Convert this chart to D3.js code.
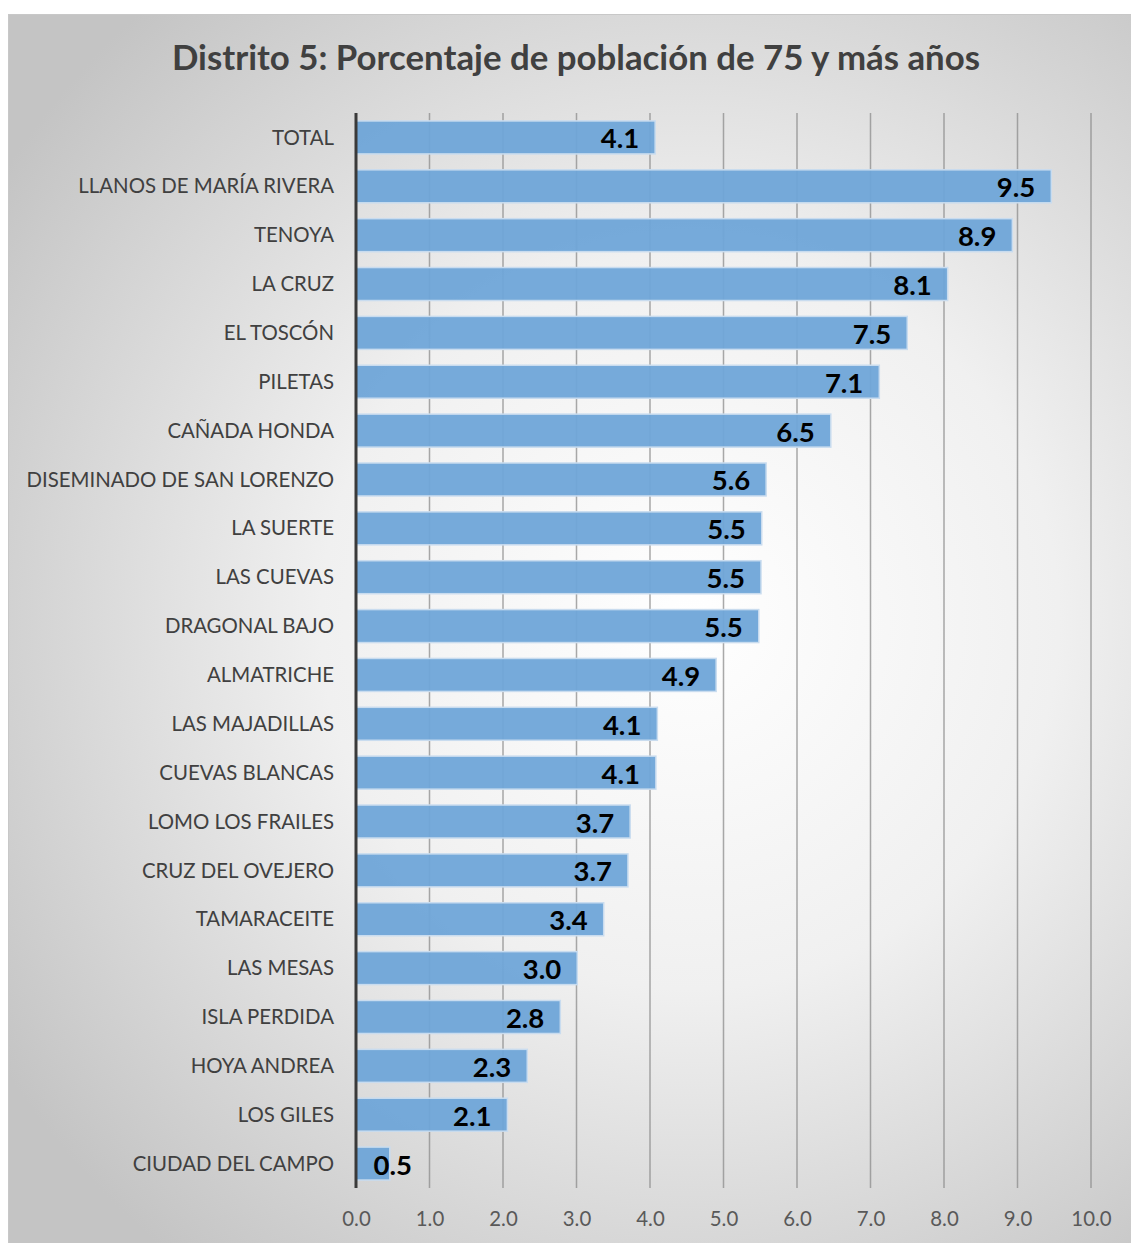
<!DOCTYPE html>
<html>
<head>
<meta charset="utf-8">
<script src="https://cdn.jsdelivr.net/npm/d3@7"></script>
<style>
  html, body { margin: 0; padding: 0; background: #ffffff; }
  svg { display: block; }
</style>
</head>
<body>
<svg id="chart" width="1131" height="1243"></svg>
<script>
const categories = [
  "TOTAL", "LLANOS DE MARÍA RIVERA", "TENOYA", "LA CRUZ", "EL TOSCÓN", "PILETAS",
  "CAÑADA HONDA", "DISEMINADO DE SAN LORENZO", "LA SUERTE", "LAS CUEVAS",
  "DRAGONAL BAJO", "ALMATRICHE", "LAS MAJADILLAS", "CUEVAS BLANCAS",
  "LOMO LOS FRAILES", "CRUZ DEL OVEJERO", "TAMARACEITE", "LAS MESAS",
  "ISLA PERDIDA", "HOYA ANDREA", "LOS GILES", "CIUDAD DEL CAMPO"
];
const values = [
  4.07, 9.46, 8.93, 8.05, 7.50, 7.12,
  6.46, 5.58, 5.52, 5.51,
  5.48, 4.90, 4.10, 4.08,
  3.73, 3.70, 3.37, 3.01,
  2.78, 2.33, 2.06, 0.46
];
const tickValues = [0, 1, 2, 3, 4, 5, 6, 7, 8, 9, 10];
const title = "Distrito 5: Porcentaje de población de 75 y más años";

const svg = d3.select("#chart");
const W = 1131, H = 1243;

// background with radial gradient
const defs = svg.append("defs");
const grad = defs.append("radialGradient")
  .attr("id", "bg").attr("gradientUnits", "userSpaceOnUse")
  .attr("cx", 690).attr("cy", 620).attr("r", 820);
grad.append("stop").attr("offset", "0%").attr("stop-color", "#ffffff");
grad.append("stop").attr("offset", "45%").attr("stop-color", "#f0f0f0");
grad.append("stop").attr("offset", "100%").attr("stop-color", "#c4c4c4");

svg.append("rect").attr("x", 8.5).attr("y", 14.5).attr("width", W - 8).attr("height", H - 14)
  .attr("fill", "url(#bg)").attr("stroke", "#c8c8c8").attr("stroke-width", 1);

const x0 = 356, x1 = 1091, yTop = 113, yBot = 1188;
const x = d3.scaleLinear().domain([0, 10]).range([x0, x1]);
const y = d3.scaleBand().domain(categories).range([yTop, yBot]).paddingInner(0.325).paddingOuter(0.1625);

// title
svg.append("text").attr("x", 576).attr("y", 70).attr("text-anchor", "middle")
  .attr("font-family", "Lato, 'Open Sans', sans-serif").attr("font-weight", "bold")
  .attr("font-size", 34.8).attr("fill", "#404040").text(title);

// gridlines
svg.append("g").selectAll("line").data(tickValues.filter(d => d > 0)).join("line")
  .attr("x1", d => x(d)).attr("x2", d => x(d))
  .attr("y1", yTop).attr("y2", yBot)
  .attr("stroke", "#8c8c8c").attr("stroke-opacity", 0.75).attr("stroke-width", 1.5);

// bars
svg.append("g").selectAll("rect").data(values).join("rect")
  .attr("x", x(0))
  .attr("y", (d, i) => y(categories[i]))
  .attr("width", d => x(d) - x(0))
  .attr("height", y.bandwidth())
  .attr("fill", "#6fa5d8").attr("fill-opacity", 0.95)
  .attr("stroke", "#c9dcef").attr("stroke-width", 1.5);

// value labels
svg.append("g").selectAll("text").data(values).join("text")
  .attr("x", d => Math.max(x(d) - 16, x0 + 56))
  .attr("y", (d, i) => y(categories[i]) + y.bandwidth() / 2 + 11)
  .attr("text-anchor", "end")
  .attr("font-family", "Lato, 'Open Sans', sans-serif").attr("font-weight", "bold")
  .attr("font-size", 27.5).attr("fill", "#000000")
  .text(d => d3.format(".1f")(d));

// y axis (category labels)
const yAxis = d3.axisLeft(y).tickSize(0).tickPadding(22);
const gy = svg.append("g").attr("transform", `translate(${x0},0)`).call(yAxis);
gy.select(".domain").remove();
gy.selectAll("text").attr("font-family", "Lato, 'Open Sans', sans-serif")
  .attr("font-size", 20.4).attr("fill", "#404040").attr("dy", "0.35em");

// axis line
svg.append("line").attr("x1", x0).attr("x2", x0).attr("y1", yTop).attr("y2", yBot)
  .attr("stroke", "#3a3a3a").attr("stroke-width", 3);

// x axis tick labels
const xAxis = d3.axisBottom(x).tickValues(tickValues).tickSize(0).tickPadding(24)
  .tickFormat(d3.format(".1f"));
const gx = svg.append("g").attr("transform", `translate(0,${yBot})`).call(xAxis);
gx.select(".domain").remove();
gx.selectAll("text").attr("font-family", "Lato, 'Open Sans', sans-serif")
  .attr("font-size", 20.4).attr("fill", "#595959");
</script>
</body>
</html>
